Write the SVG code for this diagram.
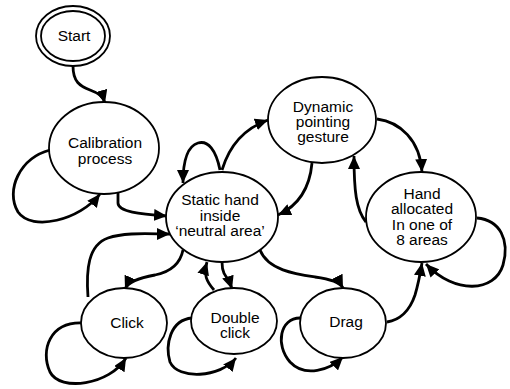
<svg xmlns="http://www.w3.org/2000/svg" width="510" height="389" viewBox="0 0 510 389">
<style>
.n{fill:#fff;stroke:#000;stroke-width:1.8}
.t{font-family:"Liberation Sans",Arial,sans-serif;font-size:15.5px;fill:#000;text-anchor:middle}
.c{fill:none;stroke:#000;stroke-width:2.8;marker-end:url(#ah)}
</style>
<defs>
<marker id="ah" markerUnits="userSpaceOnUse" markerWidth="14" markerHeight="12" refX="13" refY="6" orient="auto">
<path d="M0,0 L13,6 L0,12 Z" fill="#000"/>
</marker>
</defs>
<rect width="510" height="389" fill="#fff"/>
<g id="connectors">
<path class="c" d="M73,66 C73,82 80,86 90,90 C98,93 103,96 105,103"/>
<path class="c" d="M50,150 C20,158 5,190 18,212 C32,232 80,220 100,194"/>
<path class="c" d="M118,193 L118,203 C118,212 140,214 167,216"/>
<path class="c" d="M88,297 C86,270 88,245 108,238 C125,232 150,234 170,234"/>
<path class="c" d="M183,250 C180,265 170,272 155,275 C138,278 128,282 125,289"/>
<path class="c" d="M82,323 C50,322 40,350 50,372 C60,392 110,385 126,358"/>
<path class="c" d="M214,290 C207,282 203,275 207,262"/>
<path class="c" d="M222,262 C222,272 225,276 229,280 L232,289"/>
<path class="c" d="M192,318 C170,320 165,345 170,362 C178,380 220,378 236,358"/>
<path class="c" d="M260,250 C268,270 295,274 315,277 C330,279 340,282 343,288"/>
<path class="c" d="M300,318 C280,318 275,345 290,362 C305,378 330,370 343,357"/>
<path class="c" d="M387,322 C400,320 410,310 415,295 C418,285 420,275 422,263"/>
<path class="c" d="M477,218 C500,220 510,240 503,265 C495,292 455,295 426,264"/>
<path class="c" d="M377,119 C400,122 420,140 422,172"/>
<path class="c" d="M366,222 C356,210 354,190 354,156"/>
<path class="c" d="M312,163 C310,185 300,205 278,215"/>
<path class="c" d="M222,170 C228,150 240,130 268,120"/>
<path class="c" d="M220,170 C216,150 208,140 198,143 C188,146 183,160 183,183"/>
</g>
<g id="start">
<ellipse class="n" cx="73" cy="36" rx="37" ry="30"/>
<ellipse class="n" cx="73" cy="36" rx="32" ry="25"/>
<text class="t" x="74" y="41">Start</text>
</g>
<g id="calibration">
<ellipse class="n" cx="104" cy="148" rx="55" ry="46"/>
<text class="t" x="105" y="148">Calibration</text>
<text class="t" x="105" y="164">process</text>
</g>
<g id="static">
<ellipse class="n" cx="222" cy="217" rx="56" ry="45"/>
<text class="t" x="220" y="205">Static hand</text>
<text class="t" x="220" y="221">inside</text>
<text class="t" x="220" y="236">‘neutral area’</text>
</g>
<g id="dynamic">
<ellipse class="n" cx="322" cy="120" rx="54" ry="43"/>
<text class="t" x="323" y="112">Dynamic</text>
<text class="t" x="323" y="127">pointing</text>
<text class="t" x="323" y="142">gesture</text>
</g>
<g id="hand">
<ellipse class="n" cx="421" cy="217" rx="55" ry="45"/>
<text class="t" x="422" y="199">Hand</text>
<text class="t" x="422" y="214">allocated</text>
<text class="t" x="422" y="230">In one of</text>
<text class="t" x="422" y="245">8 areas</text>
</g>
<g id="click">
<ellipse class="n" cx="124" cy="323" rx="43" ry="35"/>
<text class="t" x="127" y="328">Click</text>
</g>
<g id="doubleclick">
<ellipse class="n" cx="234" cy="321" rx="43" ry="33"/>
<text class="t" x="235" y="323">Double</text>
<text class="t" x="235" y="338">click</text>
</g>
<g id="drag">
<ellipse class="n" cx="343" cy="323" rx="43" ry="35"/>
<text class="t" x="346" y="327">Drag</text>
</g>
</svg>
